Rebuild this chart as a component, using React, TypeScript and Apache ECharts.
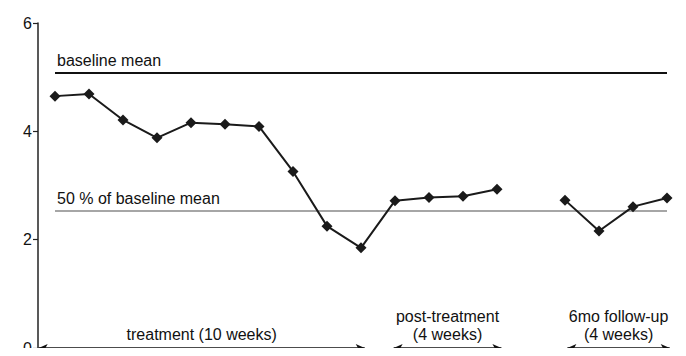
import React, { useEffect, useRef } from "react";
import * as echarts from "echarts";

const sessionIndex = [0, 1, 2, 3, 4, 5, 6, 7, 8, 9, 10, 11, 12, 13, 14, 15, 16, 17, 18];
const treatmentScores = [4.65, 4.69, 4.21, 3.88, 4.16, 4.13, 4.09, 3.26, 2.25, 1.85];
const postScores = [2.72, 2.78, 2.8, 2.93];
const followUpScores = [2.73, 2.16, 2.61, 2.77];
const baselineMean = 5.08;
const halfBaseline = 2.54;
const periodLabels = ["treatment (10 weeks)", "post-treatment\n(4 weeks)", "6mo follow-up\n(4 weeks)"];
const periodStart = [-0.48, 9.96, 15.07];
const periodEnd = [9.11, 13.13, 18.08];
const yTicks = [0, 2, 4, 6];

const FONT = "'Liberation Sans', Arial, sans-serif";

export default function App() {
  const ref = useRef<HTMLDivElement>(null);
  useEffect(() => {
    if (!ref.current) return;
    const chart = echarts.init(ref.current, undefined, { renderer: "svg" });
    const allScores: (number | string)[] = [...treatmentScores, ...postScores, "-", ...followUpScores];
    const data = sessionIndex.map((x, i) => [x, allScores[i]]);
    const first = sessionIndex[0];
    const last = sessionIndex[sessionIndex.length - 1];
    chart.setOption({
      animation: false,
      grid: { left: 38, right: 2, top: 23, bottom: 5, containLabel: false },
      xAxis: {
        type: "value",
        min: -0.5,
        max: 18.5,
        show: false,
      },
      yAxis: {
        type: "value",
        min: yTicks[0],
        max: yTicks[yTicks.length - 1],
        interval: 2,
        axisLine: { show: true, onZero: false, lineStyle: { color: "#222", width: 1.5 } },
        axisTick: { show: true, length: 5, lineStyle: { color: "#222", width: 1.2 } },
        axisLabel: { fontSize: 16, color: "#111", fontFamily: FONT, margin: 6 },
        splitLine: { show: false },
      },
      series: [
        {
          type: "line",
          data,
          connectNulls: false,
          symbol: "diamond",
          symbolSize: 11,
          itemStyle: { color: "#1a1a1a" },
          lineStyle: { color: "#1a1a1a", width: 2 },
          z: 5,
          markLine: {
            silent: true,
            symbol: ["none", "none"],
            data: [
              [
                {
                  coord: [first, baselineMean],
                  lineStyle: { color: "#111", width: 2, type: "solid" },
                  label: { show: true, position: "insideStartTop", formatter: "baseline mean", distance: [2, 4] },
                },
                { coord: [last, baselineMean] },
              ],
              [
                {
                  coord: [first, halfBaseline],
                  lineStyle: { color: "#888", width: 1.5, type: "solid" },
                  label: { show: true, position: "insideStartTop", formatter: "50 % of baseline mean", distance: [2, 4] },
                },
                { coord: [last, halfBaseline] },
              ],
            ],
            label: { fontSize: 16, color: "#111", fontFamily: FONT },
          },
        },
        {
          type: "line",
          data: [],
          markLine: {
            silent: true,
            symbol: ["arrow", "arrow"],
            symbolSize: [6, 9],
            lineStyle: { color: "#111", width: 1.5, type: "solid" },
            label: {
              show: true,
              position: "middle",
              fontSize: 16,
              lineHeight: 18,
              color: "#111",
              fontFamily: FONT,
              distance: 5,
              formatter: (p: any) => p.name,
            },
            data: periodLabels.map((name, i) => [
              { name, coord: [periodStart[i], 0] },
              { coord: [periodEnd[i], 0] },
            ]),
          },
        },
      ],
    });
    return () => chart.dispose();
  }, []);
  return <div ref={ref} style={{ width: 686, height: 356, margin: -8 }} />;
}
